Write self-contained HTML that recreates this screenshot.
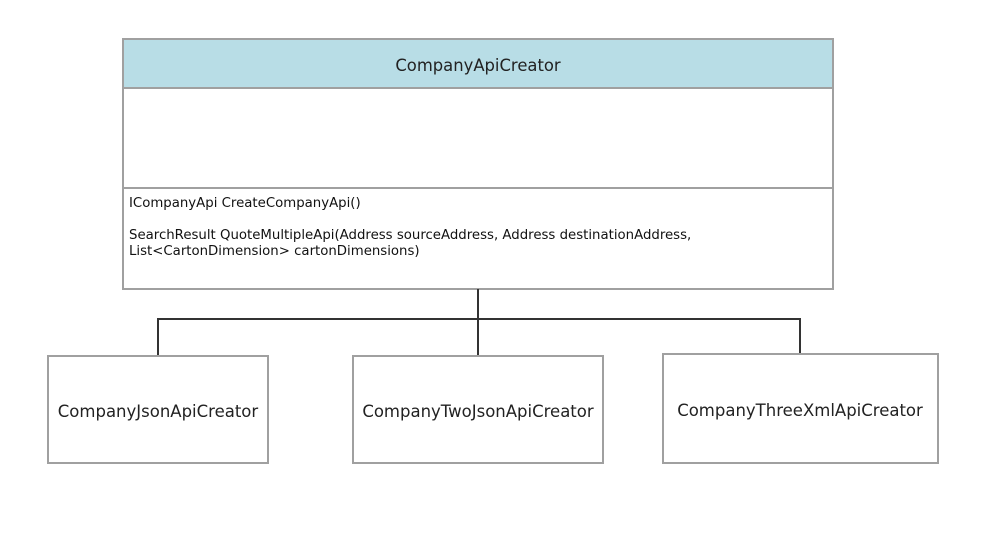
<!DOCTYPE html>
<html><head><style>
body{margin:0;width:1007px;height:538px;background:#fff;overflow:hidden;font-family:"DejaVu Sans","Liberation Sans",sans-serif;}
</style></head><body>
<svg width="1007" height="538" xmlns="http://www.w3.org/2000/svg" style="position:absolute;left:0;top:0">
<rect x="123" y="39" width="710" height="250" fill="#fff" stroke="#a0a0a0" stroke-width="2"/>
<rect x="123" y="39" width="710" height="49" fill="#b8dde6" stroke="#a0a0a0" stroke-width="2"/>
<line x1="123" y1="188" x2="833" y2="188" stroke="#a0a0a0" stroke-width="2"/>
<text x="478" y="71" text-anchor="middle" font-size="16.4" fill="#222" font-family="DejaVu Sans, sans-serif">CompanyApiCreator</text>
<g font-size="13.3" fill="#111" font-family="DejaVu Sans, sans-serif">
<text x="129" y="207">ICompanyApi CreateCompanyApi()</text>
<text x="129" y="239">SearchResult QuoteMultipleApi(Address sourceAddress, Address destinationAddress,</text>
<text x="129" y="255">List&lt;CartonDimension&gt; cartonDimensions)</text>
</g>
<g stroke="#333" stroke-width="2" fill="none">
<line x1="478" y1="289" x2="478" y2="356"/>
<polyline points="158,356 158,319 800,319 800,353"/>
</g>
<g fill="#fff" stroke="#a0a0a0" stroke-width="2">
<rect x="48" y="356" width="220" height="107"/>
<rect x="353" y="356" width="250" height="107"/>
<rect x="663" y="354" width="275" height="109"/>
</g>
<g font-size="16.5" fill="#222" text-anchor="middle" font-family="DejaVu Sans, sans-serif">
<text x="158" y="417">CompanyJsonApiCreator</text>
<text x="478" y="417">CompanyTwoJsonApiCreator</text>
<text x="800" y="416">CompanyThreeXmlApiCreator</text>
</g>
</svg>
</body></html>
